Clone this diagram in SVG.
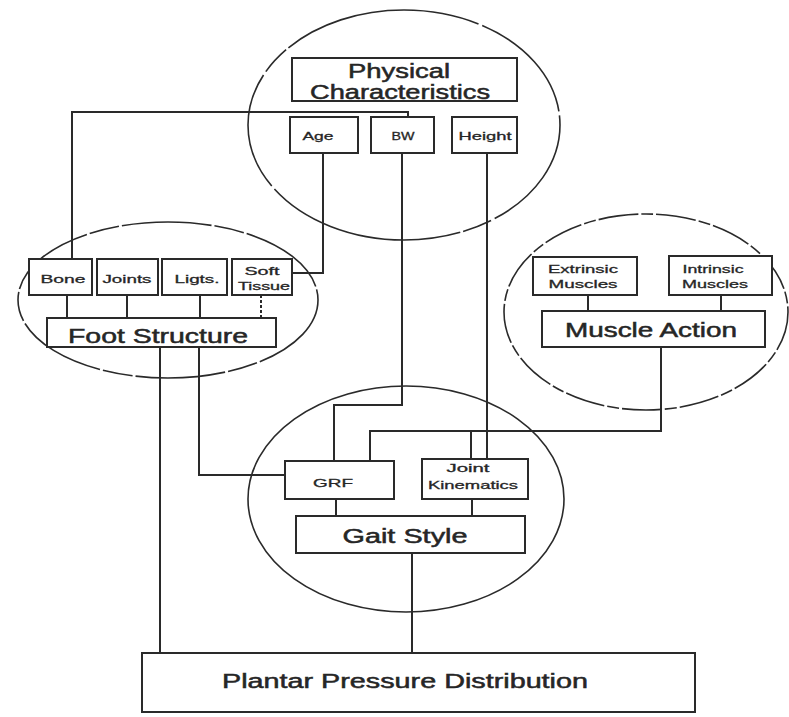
<svg xmlns="http://www.w3.org/2000/svg" width="789" height="717" viewBox="0 0 789 717">
<style>
.ell{fill:none;stroke:#2a2a2a;stroke-width:1.6}
.box{fill:#fff;stroke:#2a2a2a;stroke-width:2}
.ln{fill:none;stroke:#2a2a2a;stroke-width:2}
.big{font-family:"Liberation Sans",Arial,sans-serif;font-size:20px;fill:#262626;stroke:#262626;stroke-width:0.5;text-anchor:middle}
.sm{font-family:"Liberation Sans",Arial,sans-serif;font-size:11px;fill:#262626;stroke:#262626;stroke-width:0.3;text-anchor:middle}
</style>
<rect width="789" height="717" fill="#fff"/>
<g id="ellipses">
<ellipse class="ell" cx="404" cy="125" rx="156" ry="115" stroke-dasharray="120 4 30 3 200 4"/>
<ellipse class="ell" cx="168" cy="300" rx="150" ry="78" stroke-dasharray="90 3 30 3"/>
<ellipse class="ell" cx="646" cy="312" rx="142" ry="98" stroke="#555" stroke-dasharray="40 3 12 3"/>
<ellipse class="ell" cx="406" cy="499" rx="158" ry="113"/>
</g>
<g id="connectors">
<polyline class="ln" points="408,117 408,112 72,112 72,259"/>
<polyline class="ln" points="323,153 323,273 292,273"/>
<line class="ln" x1="67" y1="295" x2="67" y2="318"/>
<line class="ln" x1="127" y1="295" x2="127" y2="318"/>
<line class="ln" x1="200" y1="295" x2="200" y2="318"/>
<line class="ln" x1="261" y1="295" x2="261" y2="318" stroke-dasharray="3 2"/>
<line class="ln" x1="160" y1="347" x2="160" y2="653"/>
<polyline class="ln" points="199,347 199,475 285,475"/>
<polyline class="ln" points="402,153 402,405 334,405 334,461"/>
<line class="ln" x1="487" y1="153" x2="487" y2="459"/>
<line class="ln" x1="588" y1="295" x2="588" y2="311"/>
<line class="ln" x1="721" y1="295" x2="721" y2="311"/>
<polyline class="ln" points="661,347 661,431 370,431 370,461"/>
<line class="ln" x1="471" y1="431" x2="471" y2="459"/>
<line class="ln" x1="336" y1="499" x2="336" y2="516"/>
<line class="ln" x1="472" y1="499" x2="472" y2="516"/>
<line class="ln" x1="412" y1="553" x2="412" y2="653"/>
</g>
<g id="physical">
<rect class="box" x="292" y="58" width="225" height="43"/>
<text class="big" x="399" y="78" textLength="102" lengthAdjust="spacingAndGlyphs">Physical</text>
<text class="big" x="400" y="99" textLength="180" lengthAdjust="spacingAndGlyphs">Characteristics</text>
</g>
<g id="age"><rect class="box" x="290" y="117" width="68" height="36"/><text class="sm" x="318" y="140" textLength="31" lengthAdjust="spacingAndGlyphs">Age</text></g>
<g id="bw"><rect class="box" x="371" y="117" width="63" height="36"/><text class="sm" x="403" y="140" textLength="23" lengthAdjust="spacingAndGlyphs">BW</text></g>
<g id="height"><rect class="box" x="452" y="117" width="65" height="36"/><text class="sm" x="485" y="140" textLength="53" lengthAdjust="spacingAndGlyphs">Height</text></g>
<g id="bone"><rect class="box" x="29" y="259" width="63" height="36"/><text class="sm" x="63" y="283" textLength="45" lengthAdjust="spacingAndGlyphs">Bone</text></g>
<g id="joints"><rect class="box" x="97" y="259" width="61" height="36"/><text class="sm" x="127" y="283" textLength="49" lengthAdjust="spacingAndGlyphs">Joints</text></g>
<g id="ligts"><rect class="box" x="162" y="259" width="65" height="36"/><text class="sm" x="197" y="283" textLength="45" lengthAdjust="spacingAndGlyphs">Ligts.</text></g>
<g id="soft"><rect class="box" x="232" y="259" width="60" height="36"/><text class="sm" x="262" y="275" textLength="35" lengthAdjust="spacingAndGlyphs">Soft</text><text class="sm" x="264" y="290" textLength="52" lengthAdjust="spacingAndGlyphs">Tissue</text></g>
<g id="foot"><rect class="box" x="47" y="318" width="229" height="29"/><text class="big" x="158" y="343" textLength="180" lengthAdjust="spacingAndGlyphs">Foot Structure</text></g>
<g id="extrinsic"><rect class="box" x="533" y="257" width="104" height="38"/><text class="sm" x="583" y="273" textLength="70" lengthAdjust="spacingAndGlyphs">Extrinsic</text><text class="sm" x="583" y="288" textLength="69" lengthAdjust="spacingAndGlyphs">Muscles</text></g>
<g id="intrinsic"><rect class="box" x="669" y="256" width="103" height="39"/><text class="sm" x="713" y="273" textLength="61" lengthAdjust="spacingAndGlyphs">Intrinsic</text><text class="sm" x="715" y="288" textLength="66" lengthAdjust="spacingAndGlyphs">Muscles</text></g>
<g id="muscle"><rect class="box" x="542" y="311" width="223" height="36"/><text class="big" x="651" y="337" textLength="172" lengthAdjust="spacingAndGlyphs">Muscle Action</text></g>
<g id="grf"><rect class="box" x="285" y="461" width="109" height="38"/><text class="sm" x="333" y="487" textLength="40" lengthAdjust="spacingAndGlyphs">GRF</text></g>
<g id="jk"><rect class="box" x="422" y="459" width="106" height="40"/><text class="sm" x="468" y="472" textLength="43" lengthAdjust="spacingAndGlyphs">Joint</text><text class="sm" x="473" y="489" textLength="90" lengthAdjust="spacingAndGlyphs">Kinematics</text></g>
<g id="gait"><rect class="box" x="296" y="516" width="229" height="37"/><text class="big" x="405" y="543" textLength="125" lengthAdjust="spacingAndGlyphs">Gait Style</text></g>
<g id="plantar"><rect class="box" x="142" y="653" width="553" height="59"/><text class="big" x="405" y="688" textLength="366" lengthAdjust="spacingAndGlyphs">Plantar Pressure Distribution</text></g>
</svg>
